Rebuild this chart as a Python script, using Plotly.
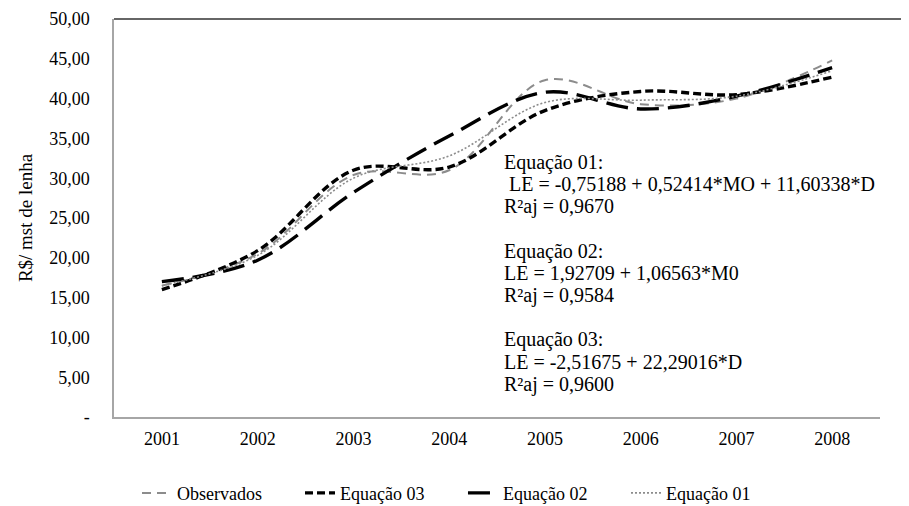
import plotly.graph_objects as go

anos = ["2001", "2002", "2003", "2004", "2005", "2006", "2007", "2008"]
observados = [16.5, 20.5, 30.4, 31.0, 42.3, 39.3, 40.0, 44.8]
equacao03 = [16.0, 20.9, 31.0, 31.4, 38.5, 40.9, 40.5, 42.7]
equacao02 = [17.0, 19.7, 28.2, 35.3, 40.8, 38.7, 40.3, 43.9]
equacao01 = [16.5, 20.3, 30.0, 32.8, 39.5, 39.8, 40.3, 43.5]

y_ticks = [0, 5, 10, 15, 20, 25, 30, 35, 40, 45, 50]
y_ticktext = ["-", "5,00", "10,00", "15,00", "20,00", "25,00", "30,00",
              "35,00", "40,00", "45,00", "50,00"]

linhas_texto = [
    "Equação 01:", " LE = -0,75188 + 0,52414*MO + 11,60338*D", "R²aj = 0,9670", "",
    "Equação 02:", "LE = 1,92709 + 1,06563*M0", "R²aj = 0,9584", "",
    "Equação 03:", "LE = -2,51675 + 22,29016*D", "R²aj = 0,9600",
]

font = "Liberation Serif"

fig = go.Figure()
fig.add_trace(go.Scatter(x=anos, y=observados, name="Observados", mode="lines",
                         line=dict(color="#8c8c8c", width=2, dash="9px,6px", shape="spline")))
fig.add_trace(go.Scatter(x=anos, y=equacao03, name="Equação 03", mode="lines",
                         line=dict(color="black", width=3.4, dash="8px,4px", shape="spline")))
fig.add_trace(go.Scatter(x=anos, y=equacao02, name="Equação 02", mode="lines",
                         line=dict(color="black", width=3.4, dash="22px,9px", shape="spline")))
fig.add_trace(go.Scatter(x=anos, y=equacao01, name="Equação 01", mode="lines",
                         line=dict(color="#8c8c8c", width=1.6, dash="2px,2px", shape="spline")))

# text block: one annotation per line (plot area spans 398 px vertically)
y_primeira = 0.64
passo = 22.2 / 398
for i, linha in enumerate(linhas_texto):
    if not linha:
        continue
    fig.add_annotation(x=0.507, y=y_primeira - i * passo, xref="paper", yref="paper",
                       xanchor="left", yanchor="middle", text=linha, showarrow=False,
                       font=dict(family=font, size=20, color="black"))

fig.add_shape(type="line", xref="paper", yref="paper", x0=0, x1=1.05, y0=1, y1=1,
              line=dict(color="#333333", width=1.5))

fig.update_layout(
    width=901, height=498,
    margin=dict(l=106, r=29, t=11, b=89, autoexpand=False),
    paper_bgcolor="white", plot_bgcolor="white",
    font=dict(family=font, size=18, color="black"),
    showlegend=True,
    legend=dict(orientation="h", x=0.03, xanchor="left", y=-0.145, yanchor="top",
                font=dict(family=font, size=18), entrywidth=118, entrywidthmode="pixels"),
    xaxis=dict(type="category", showgrid=False, showline=True, linecolor="#a6a6a6",
               linewidth=1.5, ticks="", tickfont=dict(family=font, size=18),
               range=[-0.5, 7.5], automargin=False, ticklabelstandoff=5),
    yaxis=dict(range=[0, 50], tickvals=y_ticks, ticktext=y_ticktext, showgrid=False,
               showline=True, linecolor="#a6a6a6", linewidth=1.5, ticks="",
               zeroline=False, ticklabelstandoff=19, automargin=False,
               tickfont=dict(family=font, size=18),
               title=dict(text="R$/ mst de lenha", font=dict(family=font, size=19),
                          standoff=12)),
)

fig.write_html("out.html")
